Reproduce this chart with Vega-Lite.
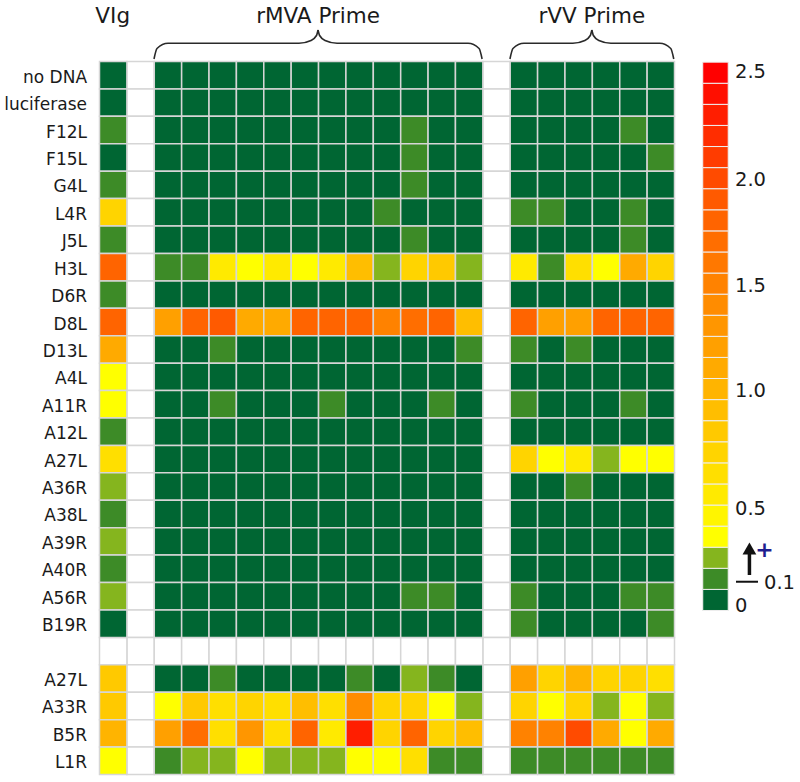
{
"$schema": "https://vega.github.io/schema/vega-lite/v6.json",
"width": 800, "height": 782,
"autosize": {"type": "none"},
"padding": 0,
"background": "white",
"config": {"view": {"stroke": null}, "text": {"font": "DejaVu Sans", "color": "#1a1a1a"}},
"datasets": {
"cells": [
{"r":0,"c":0,"v":0.05},{"r":0,"c":2,"v":0.05},{"r":0,"c":3,"v":0.05},{"r":0,"c":4,"v":0.05},{"r":0,"c":5,"v":0.05},{"r":0,"c":6,"v":0.05},{"r":0,"c":7,"v":0.05},{"r":0,"c":8,"v":0.05},{"r":0,"c":9,"v":0.05},{"r":0,"c":10,"v":0.05},{"r":0,"c":11,"v":0.05},{"r":0,"c":12,"v":0.05},{"r":0,"c":13,"v":0.05},{"r":0,"c":15,"v":0.05},{"r":0,"c":16,"v":0.05},{"r":0,"c":17,"v":0.05},{"r":0,"c":18,"v":0.05},{"r":0,"c":19,"v":0.05},{"r":0,"c":20,"v":0.05},
{"r":1,"c":0,"v":0.05},{"r":1,"c":2,"v":0.05},{"r":1,"c":3,"v":0.05},{"r":1,"c":4,"v":0.05},{"r":1,"c":5,"v":0.05},{"r":1,"c":6,"v":0.05},{"r":1,"c":7,"v":0.05},{"r":1,"c":8,"v":0.05},{"r":1,"c":9,"v":0.05},{"r":1,"c":10,"v":0.05},{"r":1,"c":11,"v":0.05},{"r":1,"c":12,"v":0.05},{"r":1,"c":13,"v":0.05},{"r":1,"c":15,"v":0.05},{"r":1,"c":16,"v":0.05},{"r":1,"c":17,"v":0.05},{"r":1,"c":18,"v":0.05},{"r":1,"c":19,"v":0.05},{"r":1,"c":20,"v":0.05},
{"r":2,"c":0,"v":0.15},{"r":2,"c":2,"v":0.05},{"r":2,"c":3,"v":0.05},{"r":2,"c":4,"v":0.05},{"r":2,"c":5,"v":0.05},{"r":2,"c":6,"v":0.05},{"r":2,"c":7,"v":0.05},{"r":2,"c":8,"v":0.05},{"r":2,"c":9,"v":0.05},{"r":2,"c":10,"v":0.05},{"r":2,"c":11,"v":0.15},{"r":2,"c":12,"v":0.05},{"r":2,"c":13,"v":0.05},{"r":2,"c":15,"v":0.05},{"r":2,"c":16,"v":0.05},{"r":2,"c":17,"v":0.05},{"r":2,"c":18,"v":0.05},{"r":2,"c":19,"v":0.15},{"r":2,"c":20,"v":0.05},
{"r":3,"c":0,"v":0.05},{"r":3,"c":2,"v":0.05},{"r":3,"c":3,"v":0.05},{"r":3,"c":4,"v":0.05},{"r":3,"c":5,"v":0.05},{"r":3,"c":6,"v":0.05},{"r":3,"c":7,"v":0.05},{"r":3,"c":8,"v":0.05},{"r":3,"c":9,"v":0.05},{"r":3,"c":10,"v":0.05},{"r":3,"c":11,"v":0.15},{"r":3,"c":12,"v":0.05},{"r":3,"c":13,"v":0.05},{"r":3,"c":15,"v":0.05},{"r":3,"c":16,"v":0.05},{"r":3,"c":17,"v":0.05},{"r":3,"c":18,"v":0.05},{"r":3,"c":19,"v":0.05},{"r":3,"c":20,"v":0.15},
{"r":4,"c":0,"v":0.15},{"r":4,"c":2,"v":0.05},{"r":4,"c":3,"v":0.05},{"r":4,"c":4,"v":0.05},{"r":4,"c":5,"v":0.05},{"r":4,"c":6,"v":0.05},{"r":4,"c":7,"v":0.05},{"r":4,"c":8,"v":0.05},{"r":4,"c":9,"v":0.05},{"r":4,"c":10,"v":0.05},{"r":4,"c":11,"v":0.15},{"r":4,"c":12,"v":0.05},{"r":4,"c":13,"v":0.05},{"r":4,"c":15,"v":0.05},{"r":4,"c":16,"v":0.05},{"r":4,"c":17,"v":0.05},{"r":4,"c":18,"v":0.05},{"r":4,"c":19,"v":0.05},{"r":4,"c":20,"v":0.05},
{"r":5,"c":0,"v":0.75},{"r":5,"c":2,"v":0.05},{"r":5,"c":3,"v":0.05},{"r":5,"c":4,"v":0.05},{"r":5,"c":5,"v":0.05},{"r":5,"c":6,"v":0.05},{"r":5,"c":7,"v":0.05},{"r":5,"c":8,"v":0.05},{"r":5,"c":9,"v":0.05},{"r":5,"c":10,"v":0.15},{"r":5,"c":11,"v":0.05},{"r":5,"c":12,"v":0.05},{"r":5,"c":13,"v":0.05},{"r":5,"c":15,"v":0.15},{"r":5,"c":16,"v":0.15},{"r":5,"c":17,"v":0.05},{"r":5,"c":18,"v":0.05},{"r":5,"c":19,"v":0.15},{"r":5,"c":20,"v":0.05},
{"r":6,"c":0,"v":0.15},{"r":6,"c":2,"v":0.05},{"r":6,"c":3,"v":0.05},{"r":6,"c":4,"v":0.05},{"r":6,"c":5,"v":0.05},{"r":6,"c":6,"v":0.05},{"r":6,"c":7,"v":0.05},{"r":6,"c":8,"v":0.05},{"r":6,"c":9,"v":0.05},{"r":6,"c":10,"v":0.05},{"r":6,"c":11,"v":0.15},{"r":6,"c":12,"v":0.05},{"r":6,"c":13,"v":0.05},{"r":6,"c":15,"v":0.05},{"r":6,"c":16,"v":0.05},{"r":6,"c":17,"v":0.05},{"r":6,"c":18,"v":0.05},{"r":6,"c":19,"v":0.15},{"r":6,"c":20,"v":0.05},
{"r":7,"c":0,"v":1.85},{"r":7,"c":2,"v":0.15},{"r":7,"c":3,"v":0.15},{"r":7,"c":4,"v":0.55},{"r":7,"c":5,"v":0.35},{"r":7,"c":6,"v":0.55},{"r":7,"c":7,"v":0.35},{"r":7,"c":8,"v":0.55},{"r":7,"c":9,"v":0.95},{"r":7,"c":10,"v":0.25},{"r":7,"c":11,"v":0.75},{"r":7,"c":12,"v":0.85},{"r":7,"c":13,"v":0.25},{"r":7,"c":15,"v":0.55},{"r":7,"c":16,"v":0.15},{"r":7,"c":17,"v":0.65},{"r":7,"c":18,"v":0.35},{"r":7,"c":19,"v":1.15},{"r":7,"c":20,"v":0.75},
{"r":8,"c":0,"v":0.15},{"r":8,"c":2,"v":0.05},{"r":8,"c":3,"v":0.05},{"r":8,"c":4,"v":0.05},{"r":8,"c":5,"v":0.05},{"r":8,"c":6,"v":0.05},{"r":8,"c":7,"v":0.05},{"r":8,"c":8,"v":0.05},{"r":8,"c":9,"v":0.05},{"r":8,"c":10,"v":0.05},{"r":8,"c":11,"v":0.05},{"r":8,"c":12,"v":0.05},{"r":8,"c":13,"v":0.05},{"r":8,"c":15,"v":0.05},{"r":8,"c":16,"v":0.05},{"r":8,"c":17,"v":0.05},{"r":8,"c":18,"v":0.05},{"r":8,"c":19,"v":0.05},{"r":8,"c":20,"v":0.05},
{"r":9,"c":0,"v":1.85},{"r":9,"c":2,"v":1.25},{"r":9,"c":3,"v":1.85},{"r":9,"c":4,"v":1.95},{"r":9,"c":5,"v":1.15},{"r":9,"c":6,"v":1.15},{"r":9,"c":7,"v":1.85},{"r":9,"c":8,"v":1.85},{"r":9,"c":9,"v":1.85},{"r":9,"c":10,"v":1.55},{"r":9,"c":11,"v":1.75},{"r":9,"c":12,"v":1.85},{"r":9,"c":13,"v":0.95},{"r":9,"c":15,"v":1.85},{"r":9,"c":16,"v":1.25},{"r":9,"c":17,"v":1.25},{"r":9,"c":18,"v":1.85},{"r":9,"c":19,"v":1.85},{"r":9,"c":20,"v":1.85},
{"r":10,"c":0,"v":1.15},{"r":10,"c":2,"v":0.05},{"r":10,"c":3,"v":0.05},{"r":10,"c":4,"v":0.15},{"r":10,"c":5,"v":0.05},{"r":10,"c":6,"v":0.05},{"r":10,"c":7,"v":0.05},{"r":10,"c":8,"v":0.05},{"r":10,"c":9,"v":0.05},{"r":10,"c":10,"v":0.05},{"r":10,"c":11,"v":0.05},{"r":10,"c":12,"v":0.05},{"r":10,"c":13,"v":0.15},{"r":10,"c":15,"v":0.15},{"r":10,"c":16,"v":0.05},{"r":10,"c":17,"v":0.15},{"r":10,"c":18,"v":0.05},{"r":10,"c":19,"v":0.05},{"r":10,"c":20,"v":0.05},
{"r":11,"c":0,"v":0.35},{"r":11,"c":2,"v":0.05},{"r":11,"c":3,"v":0.05},{"r":11,"c":4,"v":0.05},{"r":11,"c":5,"v":0.05},{"r":11,"c":6,"v":0.05},{"r":11,"c":7,"v":0.05},{"r":11,"c":8,"v":0.05},{"r":11,"c":9,"v":0.05},{"r":11,"c":10,"v":0.05},{"r":11,"c":11,"v":0.05},{"r":11,"c":12,"v":0.05},{"r":11,"c":13,"v":0.05},{"r":11,"c":15,"v":0.05},{"r":11,"c":16,"v":0.05},{"r":11,"c":17,"v":0.05},{"r":11,"c":18,"v":0.05},{"r":11,"c":19,"v":0.05},{"r":11,"c":20,"v":0.05},
{"r":12,"c":0,"v":0.35},{"r":12,"c":2,"v":0.05},{"r":12,"c":3,"v":0.05},{"r":12,"c":4,"v":0.15},{"r":12,"c":5,"v":0.05},{"r":12,"c":6,"v":0.05},{"r":12,"c":7,"v":0.05},{"r":12,"c":8,"v":0.15},{"r":12,"c":9,"v":0.05},{"r":12,"c":10,"v":0.05},{"r":12,"c":11,"v":0.05},{"r":12,"c":12,"v":0.15},{"r":12,"c":13,"v":0.05},{"r":12,"c":15,"v":0.15},{"r":12,"c":16,"v":0.05},{"r":12,"c":17,"v":0.05},{"r":12,"c":18,"v":0.05},{"r":12,"c":19,"v":0.15},{"r":12,"c":20,"v":0.05},
{"r":13,"c":0,"v":0.15},{"r":13,"c":2,"v":0.05},{"r":13,"c":3,"v":0.05},{"r":13,"c":4,"v":0.05},{"r":13,"c":5,"v":0.05},{"r":13,"c":6,"v":0.05},{"r":13,"c":7,"v":0.05},{"r":13,"c":8,"v":0.05},{"r":13,"c":9,"v":0.05},{"r":13,"c":10,"v":0.05},{"r":13,"c":11,"v":0.05},{"r":13,"c":12,"v":0.05},{"r":13,"c":13,"v":0.05},{"r":13,"c":15,"v":0.05},{"r":13,"c":16,"v":0.05},{"r":13,"c":17,"v":0.05},{"r":13,"c":18,"v":0.05},{"r":13,"c":19,"v":0.05},{"r":13,"c":20,"v":0.05},
{"r":14,"c":0,"v":0.65},{"r":14,"c":2,"v":0.05},{"r":14,"c":3,"v":0.05},{"r":14,"c":4,"v":0.05},{"r":14,"c":5,"v":0.05},{"r":14,"c":6,"v":0.05},{"r":14,"c":7,"v":0.05},{"r":14,"c":8,"v":0.05},{"r":14,"c":9,"v":0.05},{"r":14,"c":10,"v":0.05},{"r":14,"c":11,"v":0.05},{"r":14,"c":12,"v":0.05},{"r":14,"c":13,"v":0.05},{"r":14,"c":15,"v":0.75},{"r":14,"c":16,"v":0.35},{"r":14,"c":17,"v":0.55},{"r":14,"c":18,"v":0.25},{"r":14,"c":19,"v":0.35},{"r":14,"c":20,"v":0.35},
{"r":15,"c":0,"v":0.25},{"r":15,"c":2,"v":0.05},{"r":15,"c":3,"v":0.05},{"r":15,"c":4,"v":0.05},{"r":15,"c":5,"v":0.05},{"r":15,"c":6,"v":0.05},{"r":15,"c":7,"v":0.05},{"r":15,"c":8,"v":0.05},{"r":15,"c":9,"v":0.05},{"r":15,"c":10,"v":0.05},{"r":15,"c":11,"v":0.05},{"r":15,"c":12,"v":0.05},{"r":15,"c":13,"v":0.05},{"r":15,"c":15,"v":0.05},{"r":15,"c":16,"v":0.05},{"r":15,"c":17,"v":0.15},{"r":15,"c":18,"v":0.05},{"r":15,"c":19,"v":0.05},{"r":15,"c":20,"v":0.05},
{"r":16,"c":0,"v":0.15},{"r":16,"c":2,"v":0.05},{"r":16,"c":3,"v":0.05},{"r":16,"c":4,"v":0.05},{"r":16,"c":5,"v":0.05},{"r":16,"c":6,"v":0.05},{"r":16,"c":7,"v":0.05},{"r":16,"c":8,"v":0.05},{"r":16,"c":9,"v":0.05},{"r":16,"c":10,"v":0.05},{"r":16,"c":11,"v":0.05},{"r":16,"c":12,"v":0.05},{"r":16,"c":13,"v":0.05},{"r":16,"c":15,"v":0.05},{"r":16,"c":16,"v":0.05},{"r":16,"c":17,"v":0.05},{"r":16,"c":18,"v":0.05},{"r":16,"c":19,"v":0.05},{"r":16,"c":20,"v":0.05},
{"r":17,"c":0,"v":0.25},{"r":17,"c":2,"v":0.05},{"r":17,"c":3,"v":0.05},{"r":17,"c":4,"v":0.05},{"r":17,"c":5,"v":0.05},{"r":17,"c":6,"v":0.05},{"r":17,"c":7,"v":0.05},{"r":17,"c":8,"v":0.05},{"r":17,"c":9,"v":0.05},{"r":17,"c":10,"v":0.05},{"r":17,"c":11,"v":0.05},{"r":17,"c":12,"v":0.05},{"r":17,"c":13,"v":0.05},{"r":17,"c":15,"v":0.05},{"r":17,"c":16,"v":0.05},{"r":17,"c":17,"v":0.05},{"r":17,"c":18,"v":0.05},{"r":17,"c":19,"v":0.05},{"r":17,"c":20,"v":0.05},
{"r":18,"c":0,"v":0.15},{"r":18,"c":2,"v":0.05},{"r":18,"c":3,"v":0.05},{"r":18,"c":4,"v":0.05},{"r":18,"c":5,"v":0.05},{"r":18,"c":6,"v":0.05},{"r":18,"c":7,"v":0.05},{"r":18,"c":8,"v":0.05},{"r":18,"c":9,"v":0.05},{"r":18,"c":10,"v":0.05},{"r":18,"c":11,"v":0.05},{"r":18,"c":12,"v":0.05},{"r":18,"c":13,"v":0.05},{"r":18,"c":15,"v":0.05},{"r":18,"c":16,"v":0.05},{"r":18,"c":17,"v":0.05},{"r":18,"c":18,"v":0.05},{"r":18,"c":19,"v":0.05},{"r":18,"c":20,"v":0.05},
{"r":19,"c":0,"v":0.25},{"r":19,"c":2,"v":0.05},{"r":19,"c":3,"v":0.05},{"r":19,"c":4,"v":0.05},{"r":19,"c":5,"v":0.05},{"r":19,"c":6,"v":0.05},{"r":19,"c":7,"v":0.05},{"r":19,"c":8,"v":0.05},{"r":19,"c":9,"v":0.05},{"r":19,"c":10,"v":0.05},{"r":19,"c":11,"v":0.15},{"r":19,"c":12,"v":0.15},{"r":19,"c":13,"v":0.05},{"r":19,"c":15,"v":0.15},{"r":19,"c":16,"v":0.05},{"r":19,"c":17,"v":0.05},{"r":19,"c":18,"v":0.05},{"r":19,"c":19,"v":0.15},{"r":19,"c":20,"v":0.15},
{"r":20,"c":0,"v":0.05},{"r":20,"c":2,"v":0.05},{"r":20,"c":3,"v":0.05},{"r":20,"c":4,"v":0.05},{"r":20,"c":5,"v":0.05},{"r":20,"c":6,"v":0.05},{"r":20,"c":7,"v":0.05},{"r":20,"c":8,"v":0.05},{"r":20,"c":9,"v":0.05},{"r":20,"c":10,"v":0.05},{"r":20,"c":11,"v":0.05},{"r":20,"c":12,"v":0.05},{"r":20,"c":13,"v":0.05},{"r":20,"c":15,"v":0.15},{"r":20,"c":16,"v":0.05},{"r":20,"c":17,"v":0.05},{"r":20,"c":18,"v":0.05},{"r":20,"c":19,"v":0.05},{"r":20,"c":20,"v":0.15},
{"r":22,"c":0,"v":0.85},{"r":22,"c":2,"v":0.05},{"r":22,"c":3,"v":0.05},{"r":22,"c":4,"v":0.15},{"r":22,"c":5,"v":0.05},{"r":22,"c":6,"v":0.05},{"r":22,"c":7,"v":0.05},{"r":22,"c":8,"v":0.05},{"r":22,"c":9,"v":0.15},{"r":22,"c":10,"v":0.05},{"r":22,"c":11,"v":0.25},{"r":22,"c":12,"v":0.15},{"r":22,"c":13,"v":0.05},{"r":22,"c":15,"v":1.25},{"r":22,"c":16,"v":0.75},{"r":22,"c":17,"v":1.05},{"r":22,"c":18,"v":0.75},{"r":22,"c":19,"v":0.75},{"r":22,"c":20,"v":0.65},
{"r":23,"c":0,"v":0.85},{"r":23,"c":2,"v":0.35},{"r":23,"c":3,"v":0.85},{"r":23,"c":4,"v":0.65},{"r":23,"c":5,"v":0.75},{"r":23,"c":6,"v":0.65},{"r":23,"c":7,"v":0.95},{"r":23,"c":8,"v":0.65},{"r":23,"c":9,"v":1.45},{"r":23,"c":10,"v":0.75},{"r":23,"c":11,"v":0.75},{"r":23,"c":12,"v":0.35},{"r":23,"c":13,"v":0.25},{"r":23,"c":15,"v":0.75},{"r":23,"c":16,"v":0.35},{"r":23,"c":17,"v":0.75},{"r":23,"c":18,"v":0.25},{"r":23,"c":19,"v":0.35},{"r":23,"c":20,"v":0.25},
{"r":24,"c":0,"v":1.05},{"r":24,"c":2,"v":1.25},{"r":24,"c":3,"v":1.75},{"r":24,"c":4,"v":0.65},{"r":24,"c":5,"v":1.35},{"r":24,"c":6,"v":0.65},{"r":24,"c":7,"v":1.85},{"r":24,"c":8,"v":0.55},{"r":24,"c":9,"v":2.35},{"r":24,"c":10,"v":0.75},{"r":24,"c":11,"v":1.85},{"r":24,"c":12,"v":0.75},{"r":24,"c":13,"v":0.95},{"r":24,"c":15,"v":1.55},{"r":24,"c":16,"v":1.55},{"r":24,"c":17,"v":2.05},{"r":24,"c":18,"v":1.15},{"r":24,"c":19,"v":0.35},{"r":24,"c":20,"v":1.15},
{"r":25,"c":0,"v":0.35},{"r":25,"c":2,"v":0.15},{"r":25,"c":3,"v":0.25},{"r":25,"c":4,"v":0.25},{"r":25,"c":5,"v":0.35},{"r":25,"c":6,"v":0.25},{"r":25,"c":7,"v":0.25},{"r":25,"c":8,"v":0.25},{"r":25,"c":9,"v":0.35},{"r":25,"c":10,"v":0.35},{"r":25,"c":11,"v":0.65},{"r":25,"c":12,"v":0.15},{"r":25,"c":13,"v":0.15},{"r":25,"c":15,"v":0.15},{"r":25,"c":16,"v":0.15},{"r":25,"c":17,"v":0.15},{"r":25,"c":18,"v":0.15},{"r":25,"c":19,"v":0.15},{"r":25,"c":20,"v":0.15}
],
"gaps": [
{"r":0,"c":1},{"r":1,"c":1},{"r":2,"c":1},{"r":3,"c":1},{"r":4,"c":1},{"r":5,"c":1},{"r":6,"c":1},{"r":7,"c":1},{"r":8,"c":1},{"r":9,"c":1},{"r":10,"c":1},{"r":11,"c":1},{"r":12,"c":1},{"r":13,"c":1},{"r":14,"c":1},{"r":15,"c":1},{"r":16,"c":1},{"r":17,"c":1},{"r":18,"c":1},{"r":19,"c":1},{"r":20,"c":1},{"r":21,"c":1},{"r":22,"c":1},{"r":23,"c":1},{"r":24,"c":1},{"r":25,"c":1},
{"r":0,"c":14},{"r":1,"c":14},{"r":2,"c":14},{"r":3,"c":14},{"r":4,"c":14},{"r":5,"c":14},{"r":6,"c":14},{"r":7,"c":14},{"r":8,"c":14},{"r":9,"c":14},{"r":10,"c":14},{"r":11,"c":14},{"r":12,"c":14},{"r":13,"c":14},{"r":14,"c":14},{"r":15,"c":14},{"r":16,"c":14},{"r":17,"c":14},{"r":18,"c":14},{"r":19,"c":14},{"r":20,"c":14},{"r":21,"c":14},{"r":22,"c":14},{"r":23,"c":14},{"r":24,"c":14},{"r":25,"c":14},
{"r":21,"c":0},{"r":21,"c":2},{"r":21,"c":3},{"r":21,"c":4},{"r":21,"c":5},{"r":21,"c":6},{"r":21,"c":7},{"r":21,"c":8},{"r":21,"c":9},{"r":21,"c":10},{"r":21,"c":11},{"r":21,"c":12},{"r":21,"c":13},{"r":21,"c":15},{"r":21,"c":16},{"r":21,"c":17},{"r":21,"c":18},{"r":21,"c":19},{"r":21,"c":20}
],
"rowLabels": [
{"r":0,"label":"no DNA"},{"r":1,"label":"luciferase"},{"r":2,"label":"F12L"},{"r":3,"label":"F15L"},{"r":4,"label":"G4L"},{"r":5,"label":"L4R"},{"r":6,"label":"J5L"},{"r":7,"label":"H3L"},{"r":8,"label":"D6R"},{"r":9,"label":"D8L"},{"r":10,"label":"D13L"},{"r":11,"label":"A4L"},{"r":12,"label":"A11R"},{"r":13,"label":"A12L"},{"r":14,"label":"A27L"},{"r":15,"label":"A36R"},{"r":16,"label":"A38L"},{"r":17,"label":"A39R"},{"r":18,"label":"A40R"},{"r":19,"label":"A56R"},{"r":20,"label":"B19R"},
{"r":22,"label":"A27L"},{"r":23,"label":"A33R"},{"r":24,"label":"B5R"},{"r":25,"label":"L1R"}
],
"groups": [
{"group":"VIg","mid":0.5},{"group":"rMVA Prime","mid":8.0},{"group":"rVV Prime","mid":18.0}
],
"braces": [
{"b":"m1","x":2.009,"y":-0.073},{"b":"m1","x":2.118,"y":-0.456},{"b":"m1","x":2.52,"y":-0.645},{"b":"m1","x":7.304,"y":-0.645},{"b":"m1","x":7.743,"y":-0.7475},{"b":"m1","x":7.943,"y":-0.93},{"b":"m1","x":8.0,"y":-1.13},
{"b":"m2","x":8.0,"y":-1.13},{"b":"m2","x":8.057,"y":-0.93},{"b":"m2","x":8.257,"y":-0.7475},{"b":"m2","x":8.696,"y":-0.645},{"b":"m2","x":13.48,"y":-0.645},{"b":"m2","x":13.882,"y":-0.456},{"b":"m2","x":13.991,"y":-0.073},
{"b":"v1","x":15.009,"y":-0.073},{"b":"v1","x":15.118,"y":-0.456},{"b":"v1","x":15.52,"y":-0.645},{"b":"v1","x":17.304,"y":-0.645},{"b":"v1","x":17.743,"y":-0.7475},{"b":"v1","x":17.943,"y":-0.93},{"b":"v1","x":18.0,"y":-1.13},
{"b":"v2","x":18.0,"y":-1.13},{"b":"v2","x":18.057,"y":-0.93},{"b":"v2","x":18.257,"y":-0.7475},{"b":"v2","x":18.696,"y":-0.645},{"b":"v2","x":20.48,"y":-0.645},{"b":"v2","x":20.882,"y":-0.456},{"b":"v2","x":20.991,"y":-0.073}
],
"legendBlocks": [
{"v":0},{"v":0.1},{"v":0.2},{"v":0.3},{"v":0.4},{"v":0.5},{"v":0.6},{"v":0.7},{"v":0.8},{"v":0.9},{"v":1.0},{"v":1.1},{"v":1.2},{"v":1.3},{"v":1.4},{"v":1.5},{"v":1.6},{"v":1.7},{"v":1.8},{"v":1.9},{"v":2.0},{"v":2.1},{"v":2.2},{"v":2.3},{"v":2.4},{"v":2.5}
],
"legendLabels": [
{"t":"2.5","p":2.521},{"t":"2.0","p":2.01},{"t":"1.5","p":1.509},{"t":"1.0","p":1.01},{"t":"0.5","p":0.45},{"t":"0","p":-0.008}
],
"one": [{"k":1}]
},
"layer": [
{
"layer": [
{
"data": {"name": "gaps"},
"mark": {"type": "rect", "binSpacing": 0, "fill": "#ffffff", "stroke": "#d6d6d6", "strokeWidth": 1.5},
"encoding": {
"x": {"field": "c", "type": "quantitative", "bin": {"binned": true, "step": 1}, "scale": {"type": "linear", "domain": [-3.6157, 25.6018], "nice": false, "zero": false}, "axis": null},
"y": {"field": "r", "type": "quantitative", "bin": {"binned": true, "step": 1}, "scale": {"type": "linear", "domain": [-2.2244, 26.2917], "nice": false, "zero": false, "reverse": true}, "axis": null}
}
},
{
"data": {"name": "cells"},
"mark": {"type": "rect", "binSpacing": 0, "stroke": "#d6d6d6", "strokeWidth": 1.5},
"encoding": {
"x": {"field": "c", "type": "quantitative", "bin": {"binned": true, "step": 1}, "scale": {"type": "linear", "domain": [-3.6157, 25.6018], "nice": false, "zero": false}, "axis": null},
"y": {"field": "r", "type": "quantitative", "bin": {"binned": true, "step": 1}, "scale": {"type": "linear", "domain": [-2.2244, 26.2917], "nice": false, "zero": false, "reverse": true}, "axis": null},
"fill": {"field": "v", "type": "quantitative", "legend": null,
"scale": {"type": "threshold", "domain": [0.1,0.2,0.3,0.4,0.5,0.6,0.7,0.8,0.9,1.0,1.1,1.2,1.3,1.4,1.5,1.6,1.7,1.8,1.9,2.0,2.1,2.2,2.3,2.4,2.5],
"range": ["#006633","#3d8b27","#85b51e","#ffff00","#fff500","#ffea00","#ffdf00","#ffd400","#ffc900","#ffbe00","#ffb400","#ffaa00","#ffa000","#ff9600","#ff8c00","#ff8200","#ff7800","#ff6e00","#ff6400","#ff5a00","#ff4b00","#ff3c00","#ff2d00","#ff1e00","#ff0f00","#ff0000"]}}
}
},
{
"data": {"name": "rowLabels"},
"mark": {"type": "text", "align": "right", "baseline": "alphabetic", "dy": 21.7, "fontSize": 17, "font": "DejaVu Sans", "color": "#1a1a1a"},
"encoding": {
"x": {"datum": -0.438, "type": "quantitative", "scale": {"type": "linear", "domain": [-3.6157, 25.6018], "nice": false, "zero": false}, "axis": null},
"y": {"field": "r", "type": "quantitative", "scale": {"type": "linear", "domain": [-2.2244, 26.2917], "nice": false, "zero": false, "reverse": true}, "axis": null},
"text": {"field": "label"}
}
},
{
"data": {"name": "groups"},
"mark": {"type": "text", "align": "center", "baseline": "alphabetic", "fontSize": 21.5, "font": "DejaVu Sans", "color": "#1a1a1a"},
"encoding": {
"x": {"field": "mid", "type": "quantitative", "scale": {"type": "linear", "domain": [-3.6157, 25.6018], "nice": false, "zero": false}, "axis": null},
"y": {"datum": -1.386, "type": "quantitative", "scale": {"type": "linear", "domain": [-2.2244, 26.2917], "nice": false, "zero": false, "reverse": true}, "axis": null},
"text": {"field": "group"}
}
},
{
"data": {"name": "braces"},
"mark": {"type": "line", "interpolate": "monotone", "color": "#2a2a2a", "strokeWidth": 1.6},
"encoding": {
"x": {"field": "x", "type": "quantitative", "scale": {"type": "linear", "domain": [-3.6157, 25.6018], "nice": false, "zero": false}, "axis": null},
"y": {"field": "y", "type": "quantitative", "scale": {"type": "linear", "domain": [-2.2244, 26.2917], "nice": false, "zero": false, "reverse": true}, "axis": null},
"detail": {"field": "b"}
}
}
]
},
{
"layer": [
{
"data": {"name": "legendBlocks"},
"mark": {"type": "rect", "binSpacing": 0, "stroke": "#eeeeee", "strokeWidth": 1},
"encoding": {
"x": {"datum": 22.05, "type": "quantitative", "scale": {"type": "linear", "domain": [-3.6157, 25.6018], "nice": false, "zero": false}, "axis": null},
"x2": {"datum": 22.98},
"y": {"field": "v", "type": "quantitative", "bin": {"binned": true, "step": 0.1}, "scale": {"type": "linear", "domain": [-0.8156, 2.8924], "nice": false, "zero": false}, "axis": null},
"fill": {"field": "v", "type": "quantitative", "legend": null,
"scale": {"type": "threshold", "domain": [0.1,0.2,0.3,0.4,0.5,0.6,0.7,0.8,0.9,1.0,1.1,1.2,1.3,1.4,1.5,1.6,1.7,1.8,1.9,2.0,2.1,2.2,2.3,2.4,2.5],
"range": ["#006633","#3d8b27","#85b51e","#ffff00","#fff500","#ffea00","#ffdf00","#ffd400","#ffc900","#ffbe00","#ffb400","#ffaa00","#ffa000","#ff9600","#ff8c00","#ff8200","#ff7800","#ff6e00","#ff6400","#ff5a00","#ff4b00","#ff3c00","#ff2d00","#ff1e00","#ff0f00","#ff0000"]}}
}
},
{
"data": {"name": "legendLabels"},
"mark": {"type": "text", "align": "left", "baseline": "alphabetic", "fontSize": 19.5, "font": "DejaVu Sans", "color": "#1a1a1a"},
"encoding": {
"x": {"datum": 23.228, "type": "quantitative", "scale": {"type": "linear", "domain": [-3.6157, 25.6018], "nice": false, "zero": false}, "axis": null},
"y": {"field": "p", "type": "quantitative", "scale": {"type": "linear", "domain": [-0.8156, 2.8924], "nice": false, "zero": false}, "axis": null},
"text": {"field": "t"}
}
},
{
"data": {"name": "one"},
"mark": {"type": "text", "align": "left", "baseline": "alphabetic", "fontSize": 19.5, "font": "DejaVu Sans", "color": "#1a1a1a", "text": "0.1"},
"encoding": {
"x": {"datum": 24.287, "type": "quantitative", "scale": {"type": "linear", "domain": [-3.6157, 25.6018], "nice": false, "zero": false}, "axis": null},
"y": {"datum": 0.1, "type": "quantitative", "scale": {"type": "linear", "domain": [-0.8156, 2.8924], "nice": false, "zero": false}, "axis": null}
}
},
{
"data": {"name": "one"},
"mark": {"type": "rule", "color": "#111111", "strokeWidth": 2},
"encoding": {
"x": {"datum": 23.264, "type": "quantitative", "scale": {"type": "linear", "domain": [-3.6157, 25.6018], "nice": false, "zero": false}, "axis": null},
"x2": {"datum": 24.067},
"y": {"datum": 0.134, "type": "quantitative", "scale": {"type": "linear", "domain": [-0.8156, 2.8924], "nice": false, "zero": false}, "axis": null}
}
},
{
"data": {"name": "one"},
"mark": {"type": "rule", "color": "#111111", "strokeWidth": 3.5},
"encoding": {
"x": {"datum": 23.755, "type": "quantitative", "scale": {"type": "linear", "domain": [-3.6157, 25.6018], "nice": false, "zero": false}, "axis": null},
"y": {"datum": 0.166, "type": "quantitative", "scale": {"type": "linear", "domain": [-0.8156, 2.8924], "nice": false, "zero": false}, "axis": null},
"y2": {"datum": 0.28}
}
},
{
"data": {"name": "one"},
"mark": {"type": "point", "shape": "triangle-up", "filled": true, "opacity": 1, "size": 190, "color": "#111111"},
"encoding": {
"x": {"datum": 23.755, "type": "quantitative", "scale": {"type": "linear", "domain": [-3.6157, 25.6018], "nice": false, "zero": false}, "axis": null},
"y": {"datum": 0.292, "type": "quantitative", "scale": {"type": "linear", "domain": [-0.8156, 2.8924], "nice": false, "zero": false}, "axis": null}
}
},
{
"data": {"name": "one"},
"mark": {"type": "text", "align": "center", "baseline": "middle", "fontSize": 22, "fontWeight": "bold", "font": "DejaVu Sans", "color": "#1f1f8f", "text": "+"},
"encoding": {
"x": {"datum": 24.305, "type": "quantitative", "scale": {"type": "linear", "domain": [-3.6157, 25.6018], "nice": false, "zero": false}, "axis": null},
"y": {"datum": 0.285, "type": "quantitative", "scale": {"type": "linear", "domain": [-0.8156, 2.8924], "nice": false, "zero": false}, "axis": null}
}
}
]
}
],
"resolve": {"scale": {"y": "independent"}}
}
